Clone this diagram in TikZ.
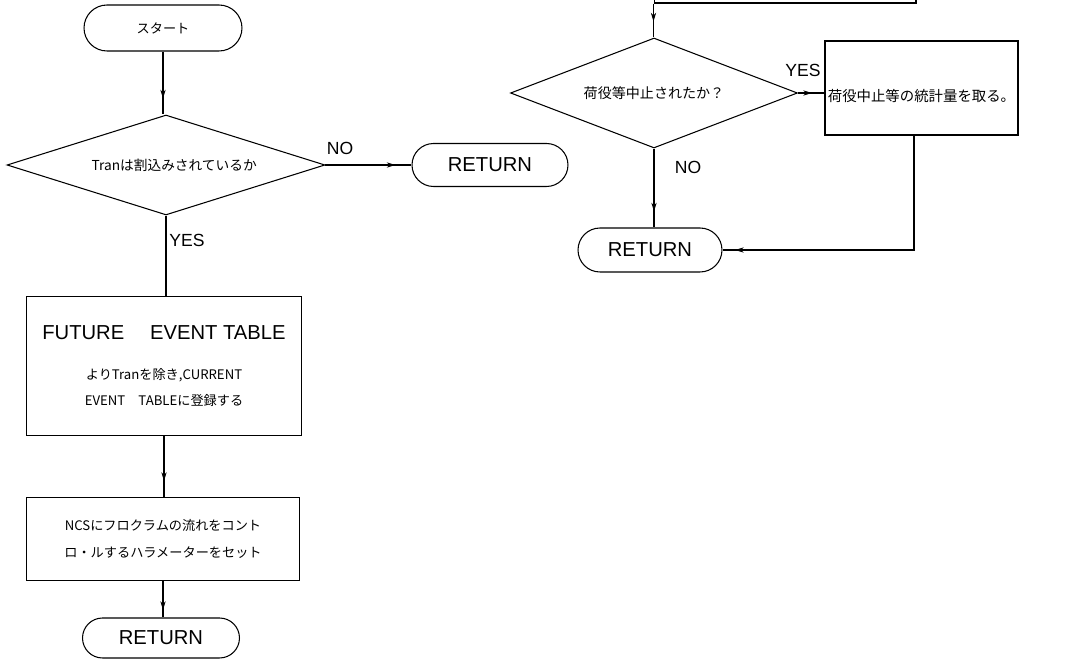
\documentclass[tikz,border=0pt]{standalone}
\usepackage{fontspec}
\setmainfont{Liberation Sans}
\newfontfamily\jp{Noto Sans CJK JP}
\usetikzlibrary{shapes.geometric,shapes.misc,decorations.markings,arrows.meta}

\tikzset{
  base/.style={draw, line width=0.6pt, inner sep=0pt},
  terminal/.style={base, rounded rectangle, font=\fontsize{11.5}{13}\selectfont},
  proc/.style={base, rectangle},
  decision/.style={base, diamond},
  small/.style={font=\jp\fontsize{7.8}{9}\selectfont},
  lbl/.style={font=\fontsize{10}{12}\selectfont},
  line/.style={line width=0.6pt},
  flow/.style={line, postaction={decorate},
    decoration={markings, mark=at position -#1 with {\arrow{Stealth[length=5pt,width=3pt]}}}},
  flow/.default=0.32cm
}

\begin{document}
\begin{tikzpicture}[x=0.02cm, y=-0.02cm]
\clip (0,0) rectangle (1080,662);
\fill[white] (0,0) rectangle (1080,662);

% left routine
\node[terminal, minimum width=3.16cm, minimum height=0.92cm, font=\jp\fontsize{7.5}{9}\selectfont] (start) at (163,28) {スタート};
\node[decision, aspect=3.18, minimum width=6.36cm, minimum height=2.0cm, small] (d1) at (166,165) {\hspace{1.2em}Tranは割込みされているか};
\node[terminal, minimum width=3.12cm, minimum height=0.86cm] (ret1) at (490,165) {RETURN};
\node[proc, minimum width=5.5cm, minimum height=2.78cm, align=center, font=\jp\fontsize{7.5}{15}\selectfont] (box1) at (164,366)
  {{\rmfamily\fontsize{11.5}{13}\selectfont FUTURE\quad\ EVENT TABLE}\\[8pt]
   よりTranを除き,CURRENT\\EVENT\quad TABLEに登録する};
\node[proc, minimum width=5.46cm, minimum height=1.66cm, align=center, font=\jp\fontsize{7.5}{15.5}\selectfont] (box2) at (163,539)
  {NCSにフロクラムの流れをコント\\ロ・ルするハラメーターをセット};
\node[terminal, minimum width=3.14cm, minimum height=0.8cm] (ret3) at (161,638) {RETURN};

\draw[flow] (start.south) -- (start.south |- d1.north);
\draw[flow] (d1.east) -- (ret1.west);
\draw[line] (d1.south) -- (d1.south |- box1.north);
\draw[flow] (box1.south) -- (box1.south |- box2.north);
\draw[flow=0.15cm] (box2.south) -- (box2.south |- ret3.north);

\node[lbl] (no1) at (340,148) {NO};
\node[lbl] (yes1) at (187,240) {YES};

% right routine
\node[proc, minimum width=5.24cm, minimum height=1.4cm] (top) at (785,-32) {};
\node[decision, aspect=2.61, minimum width=5.74cm, minimum height=2.2cm, font=\jp\fontsize{8}{10}\selectfont] (d2) at (654,93) {荷役等中止されたか？};
\node[proc, minimum width=3.86cm, minimum height=1.88cm, text height=0.66cm, text depth=0.1cm, font=\jp\fontsize{8.2}{10}\selectfont] (box3) at (921.5,88) {荷役中止等の統計量を取る。};
\node[terminal, minimum width=2.88cm, minimum height=0.88cm] (ret2) at (650,250) {RETURN};

\draw[flow] (top.south west) -- (top.south west |- d2.north);
\draw[flow=0.25cm] (d2.east) -- (d2.east -| box3.west);
\draw[flow] (d2.south) -- (d2.south |- ret2.north);
\draw[flow=0.25cm] ([xshift=-0.15cm]box3.south) |- (ret2.east);

\node[lbl] (yes2) at (803,70) {YES};
\node[lbl] (no2) at (688,167) {NO};
\end{tikzpicture}
\end{document}
